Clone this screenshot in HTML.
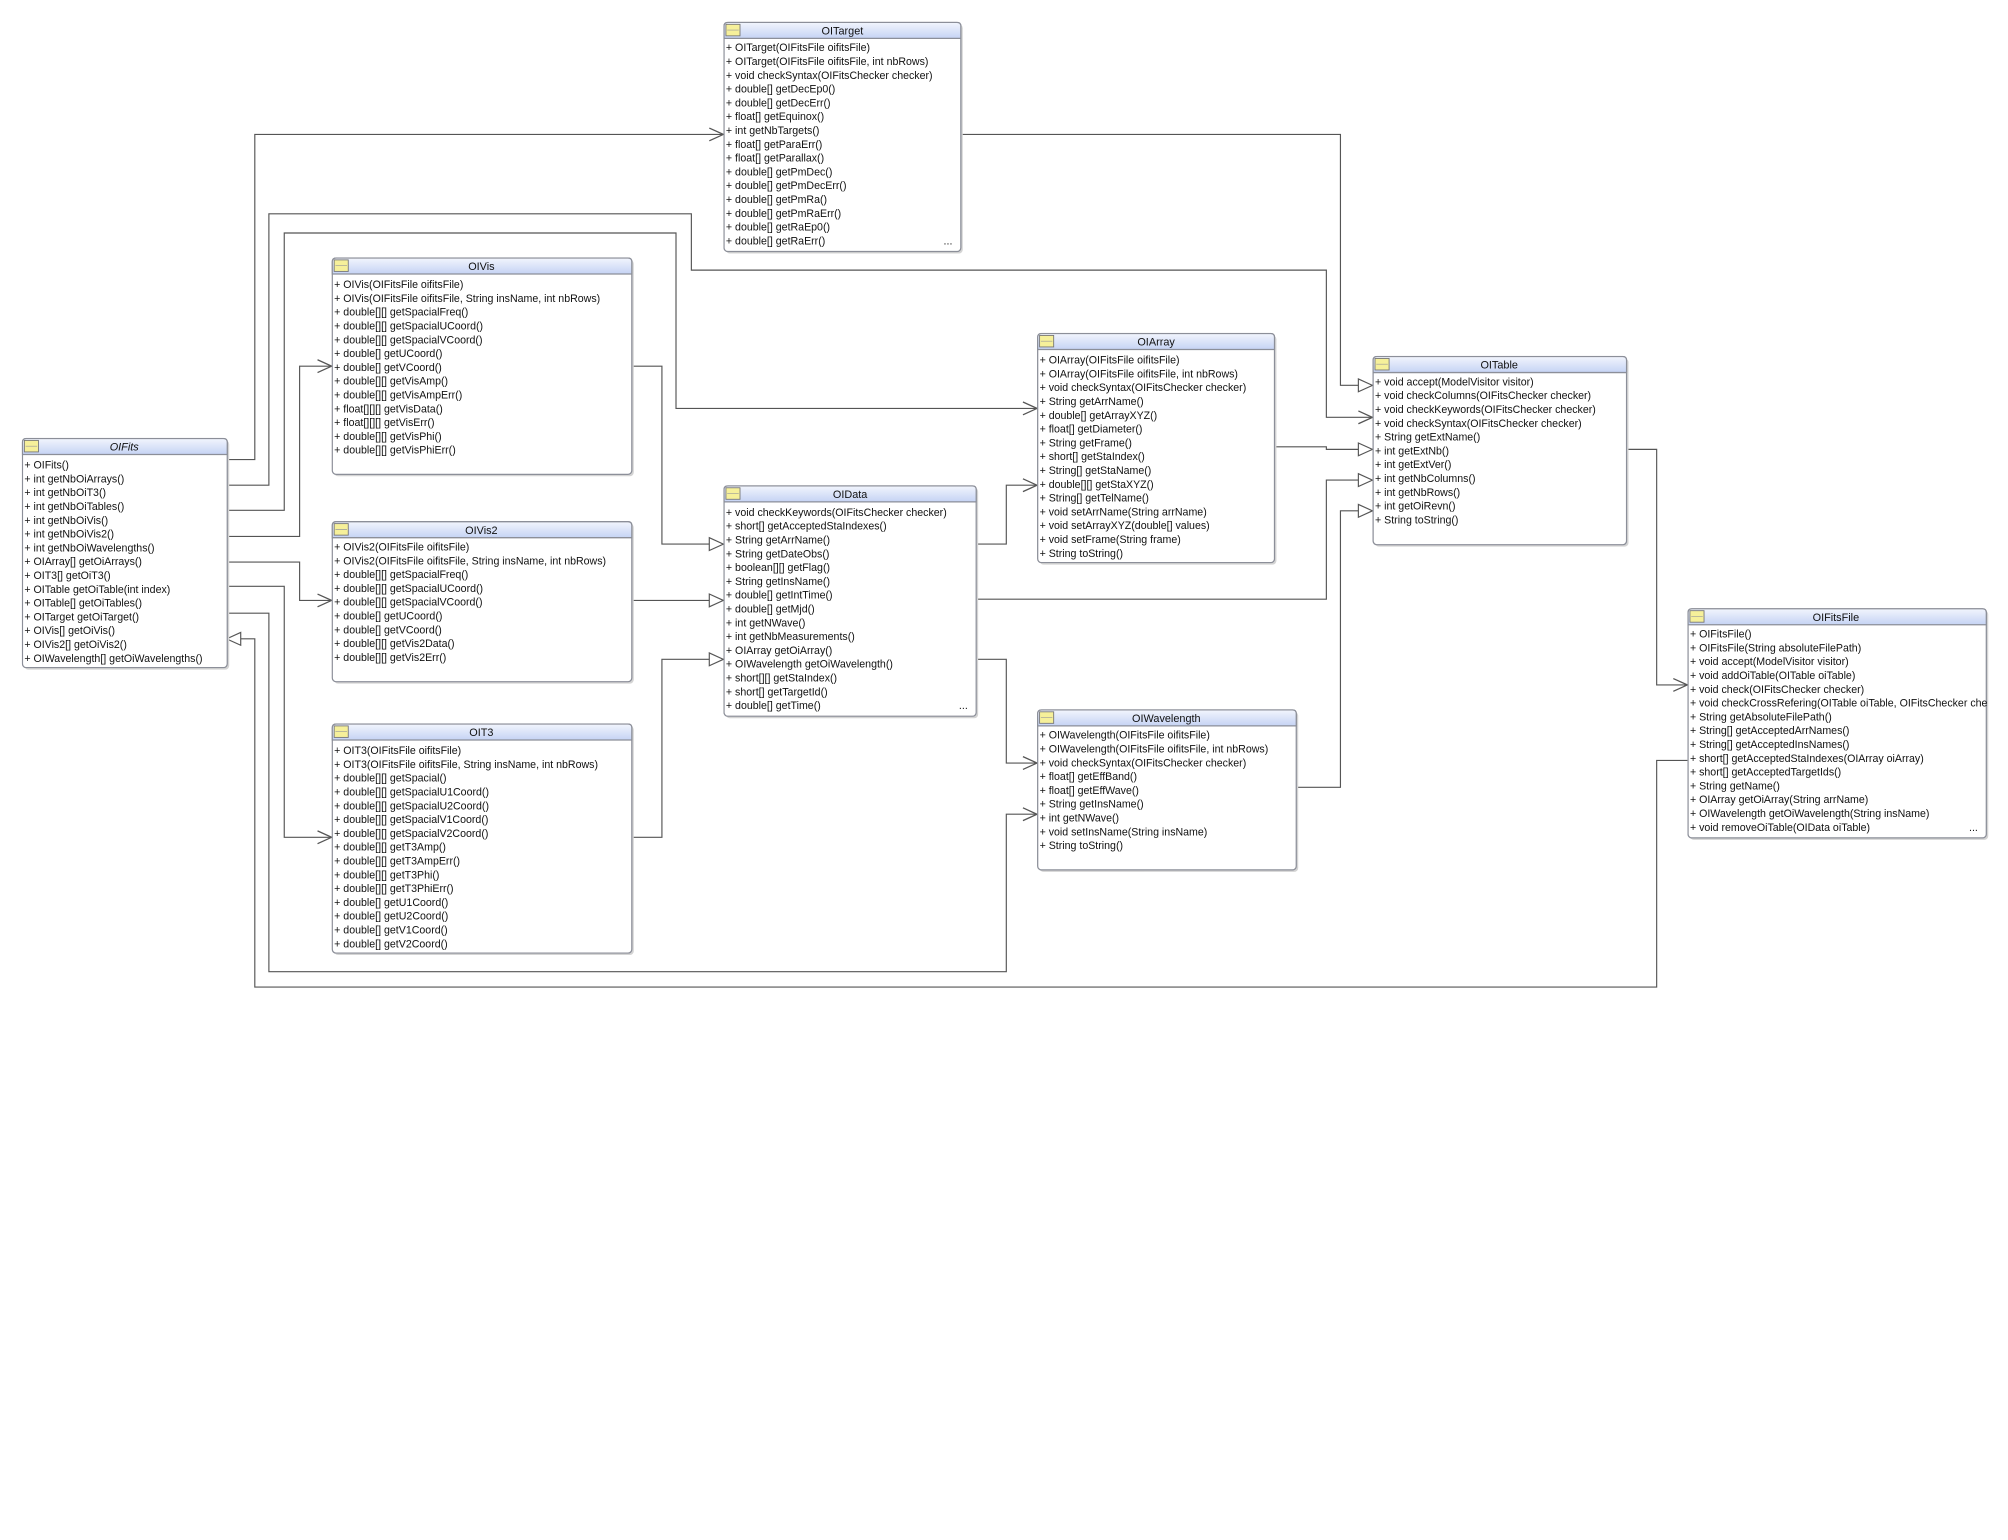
<!DOCTYPE html>
<html><head><meta charset="utf-8"><style>
html,body{margin:0;padding:0;background:#fff;width:2008px;height:1540px;overflow:hidden}
svg{display:block}
text{font-family:"Liberation Sans","DejaVu Sans",sans-serif;font-size:8.3px;fill:#111}
.t{font-size:8.5px}
.ln{fill:none;stroke:#555;stroke-width:0.9}
</style></head><body>
<svg width="2008" height="1540" viewBox="0 0 1568.4 1202.9" xmlns="http://www.w3.org/2000/svg">
<defs>
<linearGradient id="hg" x1="0" y1="0" x2="0" y2="1"><stop offset="0" stop-color="#f2f5fd"/><stop offset="1" stop-color="#c5d3f4"/></linearGradient>
<marker id="oa" markerUnits="userSpaceOnUse" markerWidth="14" markerHeight="12" refX="12" refY="6" orient="auto"><path d="M1,1 L12,6 L1,11" fill="none" stroke="#555" stroke-width="1"/></marker>
<marker id="tr" markerUnits="userSpaceOnUse" markerWidth="14" markerHeight="12" refX="12" refY="6" orient="auto"><path d="M1,1 L12,6 L1,11 Z" fill="#fff" stroke="#555" stroke-width="0.9"/></marker>
</defs>

<g class="ln">
<path class="ln" d="M177,359 H199 V105 H565" marker-end="url(#oa)"/>
<path class="ln" d="M177,379 H210 V167 H540 V211 H1036 V326 H1072" marker-end="url(#oa)"/>
<path class="ln" d="M177,398.6 H222 V182 H528 V319 H810" marker-end="url(#oa)"/>
<path class="ln" d="M177,419 H234 V286 H259" marker-end="url(#oa)"/>
<path class="ln" d="M177,439 H234 V469 H259" marker-end="url(#oa)"/>
<path class="ln" d="M177,458 H222 V654 H259" marker-end="url(#oa)"/>
<path class="ln" d="M177,479 H210 V759 H786 V636 H810" marker-end="url(#oa)"/>
<path class="ln" d="M1318,594 H1294 V771 H199 V499 H177" marker-end="url(#tr)"/>
<path class="ln" d="M493,286 H517 V425 H565" marker-end="url(#tr)"/>
<path class="ln" d="M493,469 H565" marker-end="url(#tr)"/>
<path class="ln" d="M493,654 H517 V515 H565" marker-end="url(#tr)"/>
<path class="ln" d="M762,425 H786 V379 H810" marker-end="url(#oa)"/>
<path class="ln" d="M762,515 H786 V596 H810" marker-end="url(#oa)"/>
<path class="ln" d="M762,468 H1036 V375 H1072" marker-end="url(#tr)"/>
<path class="ln" d="M995,349 H1036 V351 H1072" marker-end="url(#tr)"/>
<path class="ln" d="M1012,615 H1047 V399 H1072" marker-end="url(#tr)"/>
<path class="ln" d="M750,105 H1047 V301 H1072" marker-end="url(#tr)"/>
<path class="ln" d="M1270,351 H1294 V535 H1318" marker-end="url(#oa)"/>
</g>

<!-- OITarget -->
<rect x="567" y="19" width="185" height="179" rx="3" fill="#d4d4d4"/>
<svg x="565" y="17" width="186" height="180" overflow="hidden">
<rect x="0.5" y="0.5" width="185" height="179" rx="3" fill="#fff" stroke="#8c8f99"/>
<path d="M0.5,13 V3.5 Q0.5,0.5 3.5,0.5 H182.5 Q185.5,0.5 185.5,3.5 V13 Z" fill="url(#hg)" stroke="#8c8f99"/>
<rect x="2" y="2" width="11" height="9" fill="#f6f09a" stroke="#777" stroke-width="0.7"/><line x1="3" y1="6.5" x2="12" y2="6.5" stroke="#999" stroke-width="0.5"/>
<text class="t" x="93" y="10" text-anchor="middle">OITarget</text>
<text x="2" y="23">
<tspan x="2">+ OITarget(OIFitsFile oifitsFile)</tspan>
<tspan x="2" dy="10.78">+ OITarget(OIFitsFile oifitsFile, int nbRows)</tspan>
<tspan x="2" dy="10.78">+ void checkSyntax(OIFitsChecker checker)</tspan>
<tspan x="2" dy="10.78">+ double[] getDecEp0()</tspan>
<tspan x="2" dy="10.78">+ double[] getDecErr()</tspan>
<tspan x="2" dy="10.78">+ float[] getEquinox()</tspan>
<tspan x="2" dy="10.78">+ int getNbTargets()</tspan>
<tspan x="2" dy="10.78">+ float[] getParaErr()</tspan>
<tspan x="2" dy="10.78">+ float[] getParallax()</tspan>
<tspan x="2" dy="10.78">+ double[] getPmDec()</tspan>
<tspan x="2" dy="10.78">+ double[] getPmDecErr()</tspan>
<tspan x="2" dy="10.78">+ double[] getPmRa()</tspan>
<tspan x="2" dy="10.78">+ double[] getPmRaErr()</tspan>
<tspan x="2" dy="10.78">+ double[] getRaEp0()</tspan>
<tspan x="2" dy="10.78">+ double[] getRaErr()</tspan>
</text>
<text x="172" y="174">...</text>
</svg>

<!-- OIVis -->
<rect x="261" y="203" width="234" height="169" rx="3" fill="#d4d4d4"/>
<svg x="259" y="201" width="235" height="170" overflow="hidden">
<rect x="0.5" y="0.5" width="234" height="169" rx="3" fill="#fff" stroke="#8c8f99"/>
<path d="M0.5,13 V3.5 Q0.5,0.5 3.5,0.5 H231.5 Q234.5,0.5 234.5,3.5 V13 Z" fill="url(#hg)" stroke="#8c8f99"/>
<rect x="2" y="2" width="11" height="9" fill="#f6f09a" stroke="#777" stroke-width="0.7"/><line x1="3" y1="6.5" x2="12" y2="6.5" stroke="#999" stroke-width="0.5"/>
<text class="t" x="117" y="10" text-anchor="middle">OIVis</text>
<text x="2" y="24">
<tspan x="2">+ OIVis(OIFitsFile oifitsFile)</tspan>
<tspan x="2" dy="10.78">+ OIVis(OIFitsFile oifitsFile, String insName, int nbRows)</tspan>
<tspan x="2" dy="10.78">+ double[][] getSpacialFreq()</tspan>
<tspan x="2" dy="10.78">+ double[][] getSpacialUCoord()</tspan>
<tspan x="2" dy="10.78">+ double[][] getSpacialVCoord()</tspan>
<tspan x="2" dy="10.78">+ double[] getUCoord()</tspan>
<tspan x="2" dy="10.78">+ double[] getVCoord()</tspan>
<tspan x="2" dy="10.78">+ double[][] getVisAmp()</tspan>
<tspan x="2" dy="10.78">+ double[][] getVisAmpErr()</tspan>
<tspan x="2" dy="10.78">+ float[][][] getVisData()</tspan>
<tspan x="2" dy="10.78">+ float[][][] getVisErr()</tspan>
<tspan x="2" dy="10.78">+ double[][] getVisPhi()</tspan>
<tspan x="2" dy="10.78">+ double[][] getVisPhiErr()</tspan>
</text>
</svg>

<!-- OIVis2 -->
<rect x="261" y="409" width="234" height="125" rx="3" fill="#d4d4d4"/>
<svg x="259" y="407" width="235" height="126" overflow="hidden">
<rect x="0.5" y="0.5" width="234" height="125" rx="3" fill="#fff" stroke="#8c8f99"/>
<path d="M0.5,13 V3.5 Q0.5,0.5 3.5,0.5 H231.5 Q234.5,0.5 234.5,3.5 V13 Z" fill="url(#hg)" stroke="#8c8f99"/>
<rect x="2" y="2" width="11" height="9" fill="#f6f09a" stroke="#777" stroke-width="0.7"/><line x1="3" y1="6.5" x2="12" y2="6.5" stroke="#999" stroke-width="0.5"/>
<text class="t" x="117" y="10" text-anchor="middle">OIVis2</text>
<text x="2" y="23">
<tspan x="2">+ OIVis2(OIFitsFile oifitsFile)</tspan>
<tspan x="2" dy="10.78">+ OIVis2(OIFitsFile oifitsFile, String insName, int nbRows)</tspan>
<tspan x="2" dy="10.78">+ double[][] getSpacialFreq()</tspan>
<tspan x="2" dy="10.78">+ double[][] getSpacialUCoord()</tspan>
<tspan x="2" dy="10.78">+ double[][] getSpacialVCoord()</tspan>
<tspan x="2" dy="10.78">+ double[] getUCoord()</tspan>
<tspan x="2" dy="10.78">+ double[] getVCoord()</tspan>
<tspan x="2" dy="10.78">+ double[][] getVis2Data()</tspan>
<tspan x="2" dy="10.78">+ double[][] getVis2Err()</tspan>
</text>
</svg>

<!-- OIT3 -->
<rect x="261" y="567" width="234" height="179" rx="3" fill="#d4d4d4"/>
<svg x="259" y="565" width="235" height="180" overflow="hidden">
<rect x="0.5" y="0.5" width="234" height="179" rx="3" fill="#fff" stroke="#8c8f99"/>
<path d="M0.5,13 V3.5 Q0.5,0.5 3.5,0.5 H231.5 Q234.5,0.5 234.5,3.5 V13 Z" fill="url(#hg)" stroke="#8c8f99"/>
<rect x="2" y="2" width="11" height="9" fill="#f6f09a" stroke="#777" stroke-width="0.7"/><line x1="3" y1="6.5" x2="12" y2="6.5" stroke="#999" stroke-width="0.5"/>
<text class="t" x="117" y="10" text-anchor="middle">OIT3</text>
<text x="2" y="24">
<tspan x="2">+ OIT3(OIFitsFile oifitsFile)</tspan>
<tspan x="2" dy="10.78">+ OIT3(OIFitsFile oifitsFile, String insName, int nbRows)</tspan>
<tspan x="2" dy="10.78">+ double[][] getSpacial()</tspan>
<tspan x="2" dy="10.78">+ double[][] getSpacialU1Coord()</tspan>
<tspan x="2" dy="10.78">+ double[][] getSpacialU2Coord()</tspan>
<tspan x="2" dy="10.78">+ double[][] getSpacialV1Coord()</tspan>
<tspan x="2" dy="10.78">+ double[][] getSpacialV2Coord()</tspan>
<tspan x="2" dy="10.78">+ double[][] getT3Amp()</tspan>
<tspan x="2" dy="10.78">+ double[][] getT3AmpErr()</tspan>
<tspan x="2" dy="10.78">+ double[][] getT3Phi()</tspan>
<tspan x="2" dy="10.78">+ double[][] getT3PhiErr()</tspan>
<tspan x="2" dy="10.78">+ double[] getU1Coord()</tspan>
<tspan x="2" dy="10.78">+ double[] getU2Coord()</tspan>
<tspan x="2" dy="10.78">+ double[] getV1Coord()</tspan>
<tspan x="2" dy="10.78">+ double[] getV2Coord()</tspan>
</text>
</svg>

<!-- OIFits -->
<rect x="19" y="344" width="160" height="179" rx="3" fill="#d4d4d4"/>
<svg x="17" y="342" width="161" height="180" overflow="hidden">
<rect x="0.5" y="0.5" width="160" height="179" rx="3" fill="#fff" stroke="#8c8f99"/>
<path d="M0.5,13 V3.5 Q0.5,0.5 3.5,0.5 H157.5 Q160.5,0.5 160.5,3.5 V13 Z" fill="url(#hg)" stroke="#8c8f99"/>
<rect x="2" y="2" width="11" height="9" fill="#f6f09a" stroke="#777" stroke-width="0.7"/><line x1="3" y1="6.5" x2="12" y2="6.5" stroke="#999" stroke-width="0.5"/>
<text class="t" x="80" y="10" text-anchor="middle" font-style="italic">OIFits</text>
<text x="2" y="24">
<tspan x="2">+ OIFits()</tspan>
<tspan x="2" dy="10.78">+ int getNbOiArrays()</tspan>
<tspan x="2" dy="10.78">+ int getNbOiT3()</tspan>
<tspan x="2" dy="10.78">+ int getNbOiTables()</tspan>
<tspan x="2" dy="10.78">+ int getNbOiVis()</tspan>
<tspan x="2" dy="10.78">+ int getNbOiVis2()</tspan>
<tspan x="2" dy="10.78">+ int getNbOiWavelengths()</tspan>
<tspan x="2" dy="10.78">+ OIArray[] getOiArrays()</tspan>
<tspan x="2" dy="10.78">+ OIT3[] getOiT3()</tspan>
<tspan x="2" dy="10.78">+ OITable getOiTable(int index)</tspan>
<tspan x="2" dy="10.78">+ OITable[] getOiTables()</tspan>
<tspan x="2" dy="10.78">+ OITarget getOiTarget()</tspan>
<tspan x="2" dy="10.78">+ OIVis[] getOiVis()</tspan>
<tspan x="2" dy="10.78">+ OIVis2[] getOiVis2()</tspan>
<tspan x="2" dy="10.78">+ OIWavelength[] getOiWavelengths()</tspan>
</text>
</svg>

<!-- OIData -->
<rect x="567" y="381" width="197" height="180" rx="3" fill="#d4d4d4"/>
<svg x="565" y="379" width="198" height="181" overflow="hidden">
<rect x="0.5" y="0.5" width="197" height="180" rx="3" fill="#fff" stroke="#8c8f99"/>
<path d="M0.5,13 V3.5 Q0.5,0.5 3.5,0.5 H194.5 Q197.5,0.5 197.5,3.5 V13 Z" fill="url(#hg)" stroke="#8c8f99"/>
<rect x="2" y="2" width="11" height="9" fill="#f6f09a" stroke="#777" stroke-width="0.7"/><line x1="3" y1="6.5" x2="12" y2="6.5" stroke="#999" stroke-width="0.5"/>
<text class="t" x="99" y="10" text-anchor="middle">OIData</text>
<text x="2" y="24">
<tspan x="2">+ void checkKeywords(OIFitsChecker checker)</tspan>
<tspan x="2" dy="10.78">+ short[] getAcceptedStaIndexes()</tspan>
<tspan x="2" dy="10.78">+ String getArrName()</tspan>
<tspan x="2" dy="10.78">+ String getDateObs()</tspan>
<tspan x="2" dy="10.78">+ boolean[][] getFlag()</tspan>
<tspan x="2" dy="10.78">+ String getInsName()</tspan>
<tspan x="2" dy="10.78">+ double[] getIntTime()</tspan>
<tspan x="2" dy="10.78">+ double[] getMjd()</tspan>
<tspan x="2" dy="10.78">+ int getNWave()</tspan>
<tspan x="2" dy="10.78">+ int getNbMeasurements()</tspan>
<tspan x="2" dy="10.78">+ OIArray getOiArray()</tspan>
<tspan x="2" dy="10.78">+ OIWavelength getOiWavelength()</tspan>
<tspan x="2" dy="10.78">+ short[][] getStaIndex()</tspan>
<tspan x="2" dy="10.78">+ short[] getTargetId()</tspan>
<tspan x="2" dy="10.78">+ double[] getTime()</tspan>
</text>
<text x="184" y="175">...</text>
</svg>

<!-- OIArray -->
<rect x="812" y="262" width="185" height="179" rx="3" fill="#d4d4d4"/>
<svg x="810" y="260" width="186" height="180" overflow="hidden">
<rect x="0.5" y="0.5" width="185" height="179" rx="3" fill="#fff" stroke="#8c8f99"/>
<path d="M0.5,13 V3.5 Q0.5,0.5 3.5,0.5 H182.5 Q185.5,0.5 185.5,3.5 V13 Z" fill="url(#hg)" stroke="#8c8f99"/>
<rect x="2" y="2" width="11" height="9" fill="#f6f09a" stroke="#777" stroke-width="0.7"/><line x1="3" y1="6.5" x2="12" y2="6.5" stroke="#999" stroke-width="0.5"/>
<text class="t" x="93" y="10" text-anchor="middle">OIArray</text>
<text x="2" y="24">
<tspan x="2">+ OIArray(OIFitsFile oifitsFile)</tspan>
<tspan x="2" dy="10.78">+ OIArray(OIFitsFile oifitsFile, int nbRows)</tspan>
<tspan x="2" dy="10.78">+ void checkSyntax(OIFitsChecker checker)</tspan>
<tspan x="2" dy="10.78">+ String getArrName()</tspan>
<tspan x="2" dy="10.78">+ double[] getArrayXYZ()</tspan>
<tspan x="2" dy="10.78">+ float[] getDiameter()</tspan>
<tspan x="2" dy="10.78">+ String getFrame()</tspan>
<tspan x="2" dy="10.78">+ short[] getStaIndex()</tspan>
<tspan x="2" dy="10.78">+ String[] getStaName()</tspan>
<tspan x="2" dy="10.78">+ double[][] getStaXYZ()</tspan>
<tspan x="2" dy="10.78">+ String[] getTelName()</tspan>
<tspan x="2" dy="10.78">+ void setArrName(String arrName)</tspan>
<tspan x="2" dy="10.78">+ void setArrayXYZ(double[] values)</tspan>
<tspan x="2" dy="10.78">+ void setFrame(String frame)</tspan>
<tspan x="2" dy="10.78">+ String toString()</tspan>
</text>
</svg>

<!-- OIWavelength -->
<rect x="812" y="556" width="202" height="125" rx="3" fill="#d4d4d4"/>
<svg x="810" y="554" width="203" height="126" overflow="hidden">
<rect x="0.5" y="0.5" width="202" height="125" rx="3" fill="#fff" stroke="#8c8f99"/>
<path d="M0.5,13 V3.5 Q0.5,0.5 3.5,0.5 H199.5 Q202.5,0.5 202.5,3.5 V13 Z" fill="url(#hg)" stroke="#8c8f99"/>
<rect x="2" y="2" width="11" height="9" fill="#f6f09a" stroke="#777" stroke-width="0.7"/><line x1="3" y1="6.5" x2="12" y2="6.5" stroke="#999" stroke-width="0.5"/>
<text class="t" x="101" y="10" text-anchor="middle">OIWavelength</text>
<text x="2" y="23">
<tspan x="2">+ OIWavelength(OIFitsFile oifitsFile)</tspan>
<tspan x="2" dy="10.78">+ OIWavelength(OIFitsFile oifitsFile, int nbRows)</tspan>
<tspan x="2" dy="10.78">+ void checkSyntax(OIFitsChecker checker)</tspan>
<tspan x="2" dy="10.78">+ float[] getEffBand()</tspan>
<tspan x="2" dy="10.78">+ float[] getEffWave()</tspan>
<tspan x="2" dy="10.78">+ String getInsName()</tspan>
<tspan x="2" dy="10.78">+ int getNWave()</tspan>
<tspan x="2" dy="10.78">+ void setInsName(String insName)</tspan>
<tspan x="2" dy="10.78">+ String toString()</tspan>
</text>
</svg>

<!-- OITable -->
<rect x="1074" y="280" width="198" height="147" rx="3" fill="#d4d4d4"/>
<svg x="1072" y="278" width="199" height="148" overflow="hidden">
<rect x="0.5" y="0.5" width="198" height="147" rx="3" fill="#fff" stroke="#8c8f99"/>
<path d="M0.5,13 V3.5 Q0.5,0.5 3.5,0.5 H195.5 Q198.5,0.5 198.5,3.5 V13 Z" fill="url(#hg)" stroke="#8c8f99"/>
<rect x="2" y="2" width="11" height="9" fill="#f6f09a" stroke="#777" stroke-width="0.7"/><line x1="3" y1="6.5" x2="12" y2="6.5" stroke="#999" stroke-width="0.5"/>
<text class="t" x="99" y="10" text-anchor="middle">OITable</text>
<text x="2" y="23">
<tspan x="2">+ void accept(ModelVisitor visitor)</tspan>
<tspan x="2" dy="10.78">+ void checkColumns(OIFitsChecker checker)</tspan>
<tspan x="2" dy="10.78">+ void checkKeywords(OIFitsChecker checker)</tspan>
<tspan x="2" dy="10.78">+ void checkSyntax(OIFitsChecker checker)</tspan>
<tspan x="2" dy="10.78">+ String getExtName()</tspan>
<tspan x="2" dy="10.78">+ int getExtNb()</tspan>
<tspan x="2" dy="10.78">+ int getExtVer()</tspan>
<tspan x="2" dy="10.78">+ int getNbColumns()</tspan>
<tspan x="2" dy="10.78">+ int getNbRows()</tspan>
<tspan x="2" dy="10.78">+ int getOiRevn()</tspan>
<tspan x="2" dy="10.78">+ String toString()</tspan>
</text>
</svg>

<!-- OIFitsFile -->
<rect x="1320" y="477" width="233" height="179" rx="3" fill="#d4d4d4"/>
<svg x="1318" y="475" width="234" height="180" overflow="hidden">
<rect x="0.5" y="0.5" width="233" height="179" rx="3" fill="#fff" stroke="#8c8f99"/>
<path d="M0.5,13 V3.5 Q0.5,0.5 3.5,0.5 H230.5 Q233.5,0.5 233.5,3.5 V13 Z" fill="url(#hg)" stroke="#8c8f99"/>
<rect x="2" y="2" width="11" height="9" fill="#f6f09a" stroke="#777" stroke-width="0.7"/><line x1="3" y1="6.5" x2="12" y2="6.5" stroke="#999" stroke-width="0.5"/>
<text class="t" x="116" y="10" text-anchor="middle">OIFitsFile</text>
<text x="2" y="23">
<tspan x="2">+ OIFitsFile()</tspan>
<tspan x="2" dy="10.78">+ OIFitsFile(String absoluteFilePath)</tspan>
<tspan x="2" dy="10.78">+ void accept(ModelVisitor visitor)</tspan>
<tspan x="2" dy="10.78">+ void addOiTable(OITable oiTable)</tspan>
<tspan x="2" dy="10.78">+ void check(OIFitsChecker checker)</tspan>
<tspan x="2" dy="10.78">+ void checkCrossRefering(OITable oiTable, OIFitsChecker checker)</tspan>
<tspan x="2" dy="10.78">+ String getAbsoluteFilePath()</tspan>
<tspan x="2" dy="10.78">+ String[] getAcceptedArrNames()</tspan>
<tspan x="2" dy="10.78">+ String[] getAcceptedInsNames()</tspan>
<tspan x="2" dy="10.78">+ short[] getAcceptedStaIndexes(OIArray oiArray)</tspan>
<tspan x="2" dy="10.78">+ short[] getAcceptedTargetIds()</tspan>
<tspan x="2" dy="10.78">+ String getName()</tspan>
<tspan x="2" dy="10.78">+ OIArray getOiArray(String arrName)</tspan>
<tspan x="2" dy="10.78">+ OIWavelength getOiWavelength(String insName)</tspan>
<tspan x="2" dy="10.78">+ void removeOiTable(OIData oiTable)</tspan>
</text>
<text x="220" y="174">...</text>
</svg>
</svg>
</body></html>
